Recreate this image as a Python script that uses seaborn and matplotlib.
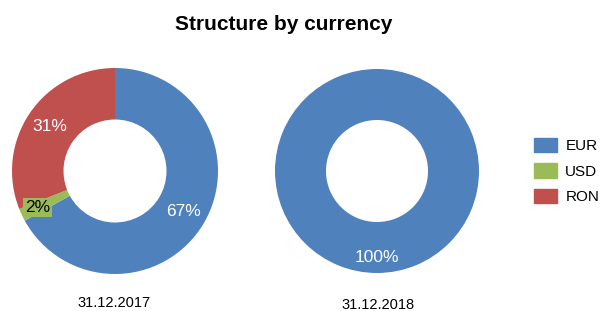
import numpy as np
import matplotlib
matplotlib.use("Agg")
import matplotlib.pyplot as plt
import seaborn as sns

# data
currencies = ["EUR", "USD", "RON"]
share_2017 = [67, 2, 31]
share_2018 = [100, 0, 0]
dates = ["31.12.2017", "31.12.2018"]
title = "Structure by currency"

sns.set_theme(style="white")
plt.rcParams['font.family'] = ['Liberation Sans', 'DejaVu Sans']
plt.rcParams['text.color'] = "black"

palette = sns.color_palette(["#4F81BD", "#9BBB59", "#C0504D"])

W, H = 602, 311
fig = plt.figure(figsize=(W / 100, H / 100), dpi=100)
fig.patch.set_facecolor("white")


def donut(cx, cy, r, values, pct_dist):
    ax = fig.add_axes([(cx - r) / W, (H - cy - r) / H, 2 * r / W, 2 * r / H])
    cols = [palette[i] for i, v in enumerate(values)]
    wedges, _ = ax.pie(values, colors=cols, startangle=90, counterclock=False,
                       wedgeprops=dict(width=0.5, edgecolor="none"))
    ax.set_xlim(-1, 1)
    ax.set_ylim(-1, 1)
    total = sum(values)
    for w, v in zip(wedges, values):
        if v <= 0:
            continue
        mid = np.deg2rad((w.theta1 + w.theta2) / 2)
        small = v / total < 0.05
        d = 0.83 if small else pct_dist
        t = ax.text(d * np.cos(mid), d * np.sin(mid), f"{v}%",
                    ha="center", va="center", fontsize=12.5,
                    color="black" if small else "white")
        if small:
            t.set_bbox(dict(facecolor=w.get_facecolor(), edgecolor="none", pad=1.5))
    return ax


donut(115, 171, 103, share_2017, 0.77)
donut(377, 171, 102, share_2018, 0.85)

fig.text(284 / W, 1 - 25 / H, title, ha="center", va="center",
         fontsize=15, fontweight="bold")
fig.text(114 / W, 1 - 303 / H, dates[0], ha="center", va="center", fontsize=10.5)
fig.text(378 / W, 1 - 305 / H, dates[1], ha="center", va="center", fontsize=10.5)

handles = [plt.Rectangle((0, 0), 1, 1, color=c) for c in palette]
fig.legend(handles, currencies, loc="center left", bbox_to_anchor=(534 / W, 1 - 171 / H),
           frameon=False, fontsize=11, handlelength=1.5, handleheight=1.1,
           labelspacing=0.65, handletextpad=0.55, borderpad=0, borderaxespad=0)

fig.savefig("out.png", dpi=100, facecolor="white")
